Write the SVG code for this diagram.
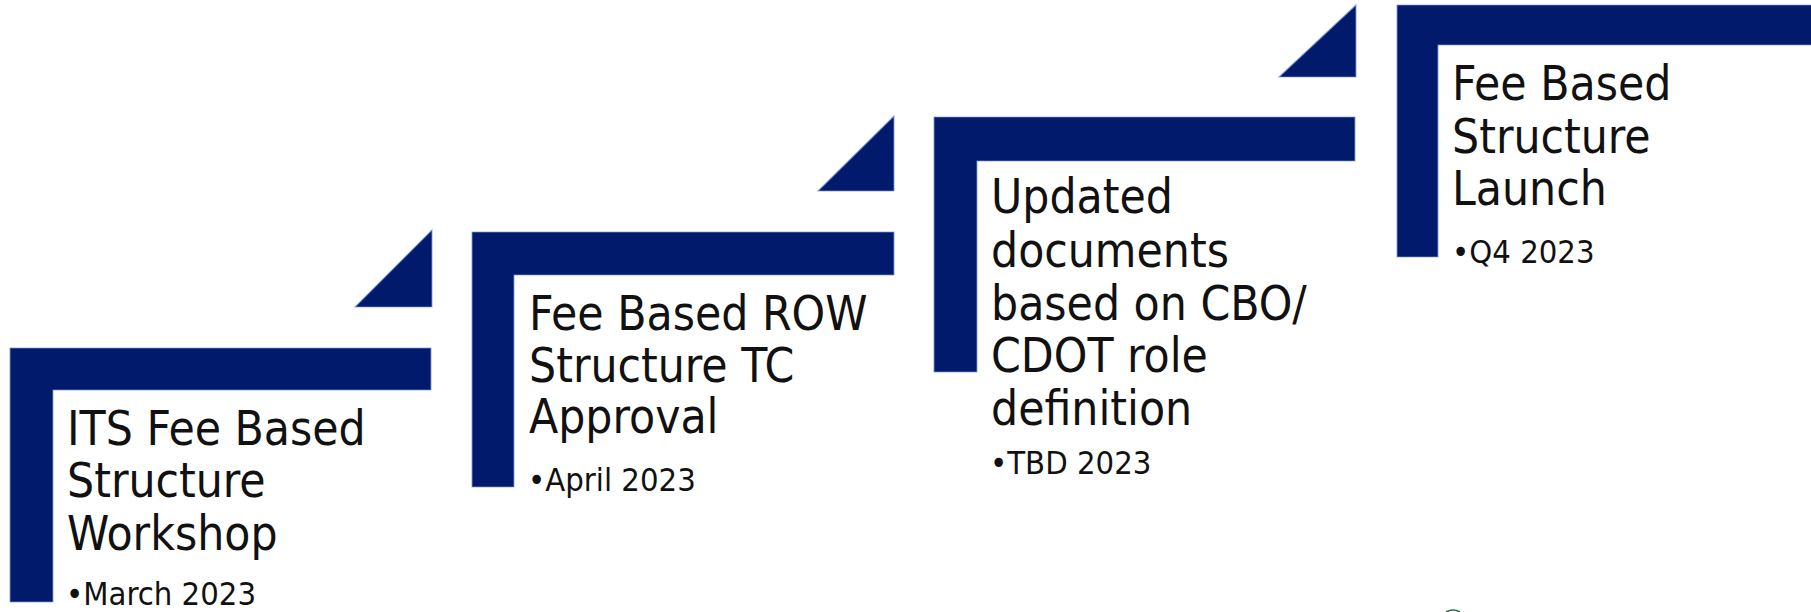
<svg xmlns="http://www.w3.org/2000/svg" width="1811" height="612" viewBox="0 0 1811 612">
  <style>
    .bar { fill: #021a6b; stroke: #7b97dc; stroke-width: 1.2; stroke-opacity: 0.7; }
    .title { font-family: 'DejaVu Sans Condensed', 'DejaVu Sans', sans-serif; font-stretch: condensed; font-size: 47.5px; fill: #111111; }
    .date { font-family: 'DejaVu Sans Condensed', 'DejaVu Sans', sans-serif; font-stretch: condensed; font-size: 32.5px; fill: #111111; }
  </style>
  <rect width="1811" height="612" fill="#ffffff"/>

  <!-- step 1 -->
  <g id="step1">
    <polygon class="bar" points="432,230 432,307 355,307"/>
    <path class="bar" d="M10,348 H431 V390 H53 V602 H10 Z"/>
    <text class="title" x="67" y="445">ITS Fee Based</text>
    <text class="title" x="67" y="497">Structure</text>
    <text class="title" x="67" y="550">Workshop</text>
    <text class="date" x="66" y="605">•March 2023</text>
  </g>

  <!-- step 2 -->
  <g id="step2">
    <polygon class="bar" points="894,116 894,191 818,191"/>
    <path class="bar" d="M472,232 H894 V275 H514 V487 H472 Z"/>
    <text class="title" x="529" y="330">Fee Based ROW</text>
    <text class="title" x="529" y="382">Structure TC</text>
    <text class="title" x="529" y="433">Approval</text>
    <text class="date" x="528" y="491">•April 2023</text>
  </g>

  <!-- step 3 -->
  <g id="step3">
    <polygon class="bar" points="1356,5 1356,77 1279,77"/>
    <path class="bar" d="M934,117 H1355 V161 H977 V372 H934 Z"/>
    <text class="title" x="991" y="213">Updated</text>
    <text class="title" x="991" y="267">documents</text>
    <text class="title" x="991" y="320">based on CBO/</text>
    <text class="title" x="991" y="372">CDOT role</text>
    <text class="title" x="991" y="425">definition</text>
    <text class="date" x="990" y="474">•TBD 2023</text>
  </g>

  <!-- step 4 -->
  <g id="step4">
    <path class="bar" d="M1397,5 H1812 V45 H1438 V257 H1397 Z"/>
    <text class="title" x="1452" y="100">Fee Based</text>
    <text class="title" x="1452" y="153">Structure</text>
    <text class="title" x="1452" y="205">Launch</text>
    <text class="date" x="1452" y="263">•Q4 2023</text>
  </g>

  <!-- edge of a mark cut off at the bottom -->
  <g id="marks">
    <path d="M1446,612 Q1453,608 1460,612" fill="none" stroke="#2e6a4a" stroke-width="1.5"/>
  </g>

  <g id="connectors"></g>
</svg>
